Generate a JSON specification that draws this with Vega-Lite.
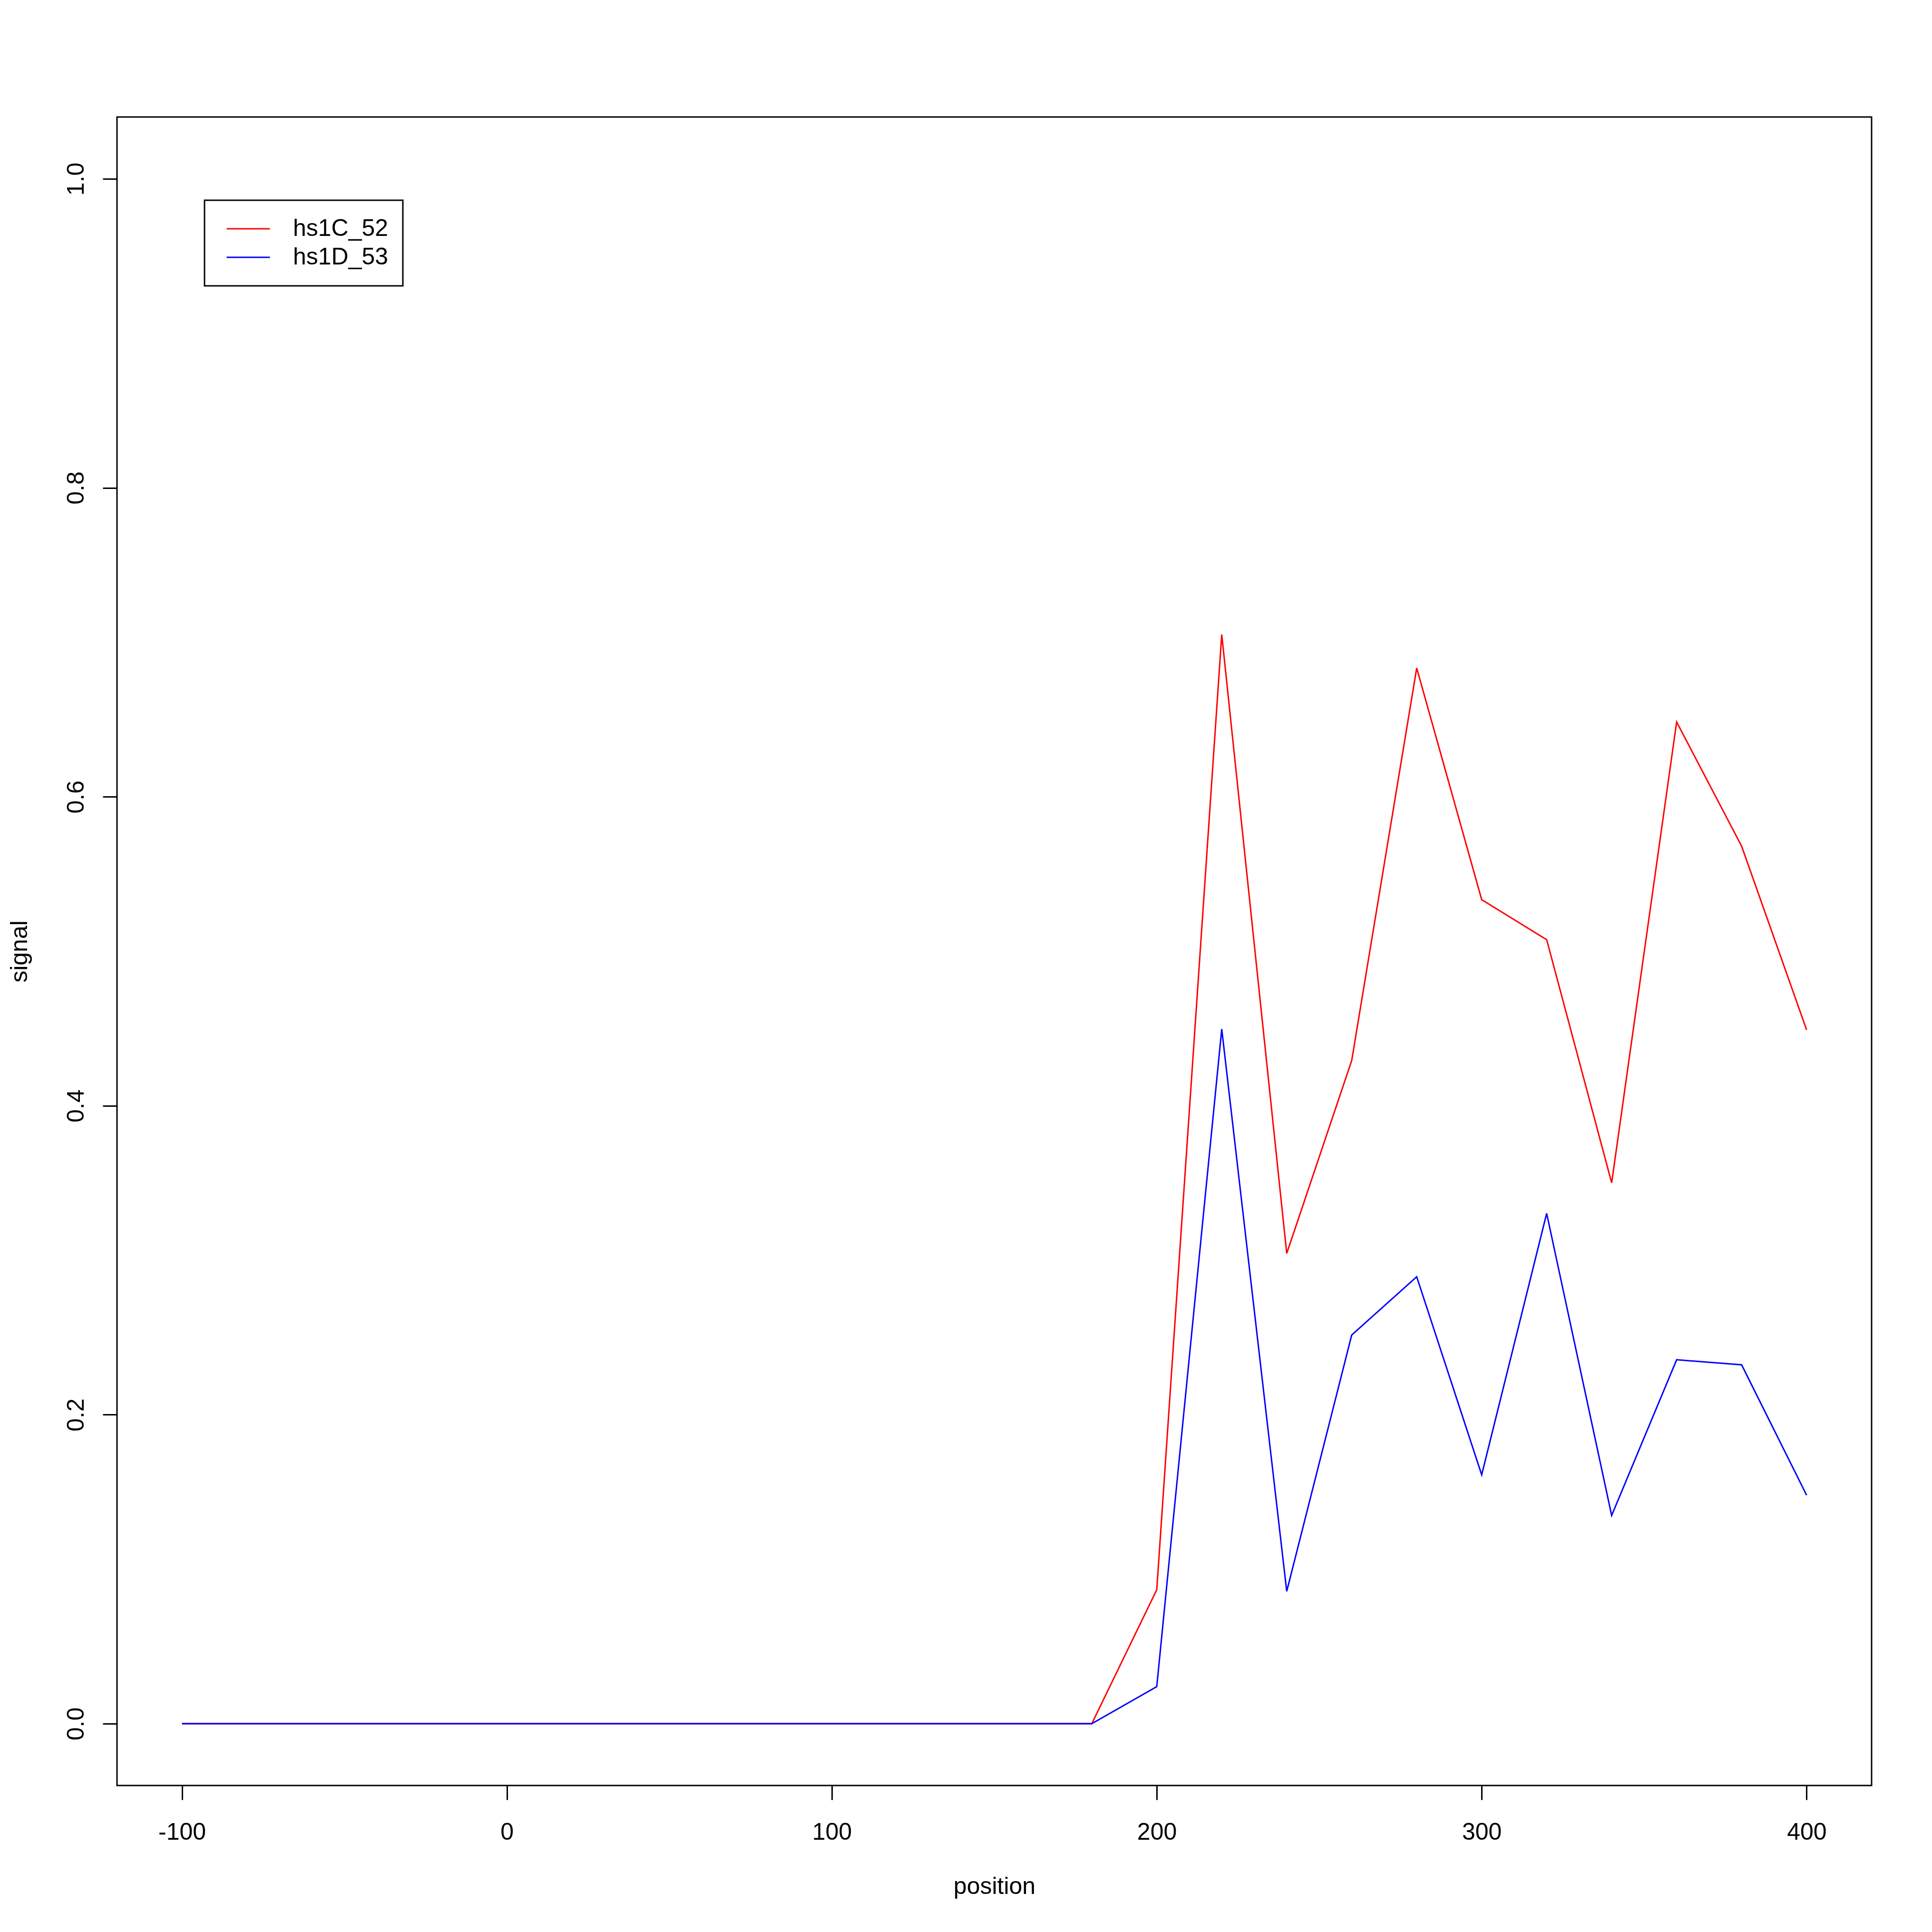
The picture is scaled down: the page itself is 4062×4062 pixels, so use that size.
{
  "$schema": "https://vega.github.io/schema/vega-lite/v6.json",
  "width": 3689,
  "height": 3508,
  "autosize": {"type": "none"},
  "padding": {"left": 246, "top": 246, "right": 127, "bottom": 308},
  "background": "white",
  "data": {
    "values": [
      {"position": -100, "signal": 0, "series": "hs1C_52"},
      {"position": -80, "signal": 0, "series": "hs1C_52"},
      {"position": -60, "signal": 0, "series": "hs1C_52"},
      {"position": -40, "signal": 0, "series": "hs1C_52"},
      {"position": -20, "signal": 0, "series": "hs1C_52"},
      {"position": 0, "signal": 0, "series": "hs1C_52"},
      {"position": 20, "signal": 0, "series": "hs1C_52"},
      {"position": 40, "signal": 0, "series": "hs1C_52"},
      {"position": 60, "signal": 0, "series": "hs1C_52"},
      {"position": 80, "signal": 0, "series": "hs1C_52"},
      {"position": 100, "signal": 0, "series": "hs1C_52"},
      {"position": 120, "signal": 0, "series": "hs1C_52"},
      {"position": 140, "signal": 0, "series": "hs1C_52"},
      {"position": 160, "signal": 0, "series": "hs1C_52"},
      {"position": 180, "signal": 0, "series": "hs1C_52"},
      {"position": 200, "signal": 0.0867, "series": "hs1C_52"},
      {"position": 220, "signal": 0.705, "series": "hs1C_52"},
      {"position": 240, "signal": 0.3044, "series": "hs1C_52"},
      {"position": 260, "signal": 0.4293, "series": "hs1C_52"},
      {"position": 280, "signal": 0.6833, "series": "hs1C_52"},
      {"position": 300, "signal": 0.5334, "series": "hs1C_52"},
      {"position": 320, "signal": 0.5075, "series": "hs1C_52"},
      {"position": 340, "signal": 0.3501, "series": "hs1C_52"},
      {"position": 360, "signal": 0.6484, "series": "hs1C_52"},
      {"position": 380, "signal": 0.568, "series": "hs1C_52"},
      {"position": 400, "signal": 0.4491, "series": "hs1C_52"},
      {"position": -100, "signal": 0, "series": "hs1D_53"},
      {"position": -80, "signal": 0, "series": "hs1D_53"},
      {"position": -60, "signal": 0, "series": "hs1D_53"},
      {"position": -40, "signal": 0, "series": "hs1D_53"},
      {"position": -20, "signal": 0, "series": "hs1D_53"},
      {"position": 0, "signal": 0, "series": "hs1D_53"},
      {"position": 20, "signal": 0, "series": "hs1D_53"},
      {"position": 40, "signal": 0, "series": "hs1D_53"},
      {"position": 60, "signal": 0, "series": "hs1D_53"},
      {"position": 80, "signal": 0, "series": "hs1D_53"},
      {"position": 100, "signal": 0, "series": "hs1D_53"},
      {"position": 120, "signal": 0, "series": "hs1D_53"},
      {"position": 140, "signal": 0, "series": "hs1D_53"},
      {"position": 160, "signal": 0, "series": "hs1D_53"},
      {"position": 180, "signal": 0, "series": "hs1D_53"},
      {"position": 200, "signal": 0.024, "series": "hs1D_53"},
      {"position": 220, "signal": 0.4496, "series": "hs1D_53"},
      {"position": 240, "signal": 0.0857, "series": "hs1D_53"},
      {"position": 260, "signal": 0.2516, "series": "hs1D_53"},
      {"position": 280, "signal": 0.2893, "series": "hs1D_53"},
      {"position": 300, "signal": 0.1611, "series": "hs1D_53"},
      {"position": 320, "signal": 0.3303, "series": "hs1D_53"},
      {"position": 340, "signal": 0.1348, "series": "hs1D_53"},
      {"position": 360, "signal": 0.2356, "series": "hs1D_53"},
      {"position": 380, "signal": 0.2323, "series": "hs1D_53"},
      {"position": 400, "signal": 0.1479, "series": "hs1D_53"}
    ]
  },
  "mark": {"type": "line", "strokeWidth": 3},
  "encoding": {
    "x": {
      "field": "position",
      "type": "quantitative",
      "scale": {"domain": [-120, 420], "nice": false, "zero": false},
      "axis": {
        "title": "position",
        "values": [-100, 0, 100, 200, 300, 400],
        "labelExpr": "'' + datum.value",
        "labelBaseline": "alphabetic",
        "labelPadding": 83,
        "titleY": 212,
        "titleBaseline": "middle"
      }
    },
    "y": {
      "field": "signal",
      "type": "quantitative",
      "scale": {"domain": [-0.04, 1.04], "nice": false, "zero": false},
      "axis": {
        "title": "signal",
        "values": [0, 0.2, 0.4, 0.6, 0.8, 1.0],
        "format": ".1f",
        "labelAngle": -90,
        "labelAlign": "center",
        "labelBaseline": "alphabetic",
        "labelPadding": 41,
        "titleX": -205,
        "titleY": 1754,
        "titleAngle": -90,
        "titleAlign": "center",
        "titleBaseline": "middle"
      }
    },
    "color": {
      "field": "series",
      "type": "nominal",
      "scale": {"domain": ["hs1C_52", "hs1D_53"], "range": ["#FF0000", "#0000FF"]},
      "legend": {
        "title": null,
        "orient": "none",
        "legendX": 184,
        "legendY": 175,
        "encode": {
          "legend": {
            "update": {
              "stroke": {"value": "black"},
              "strokeWidth": {"value": 3},
              "fill": {"value": "white"}
            }
          }
        }
      }
    }
  },
  "config": {
    "view": {"stroke": "black", "strokeWidth": 3},
    "legend": {
      "padding": 30,
      "labelFont": "Liberation Sans",
      "labelFontSize": 50,
      "labelColor": "black",
      "labelLimit": 0,
      "labelOffset": 47,
      "labelBaseline": "middle",
      "symbolType": "M-0.717,0H1",
      "symbolSize": 11236,
      "symbolStrokeWidth": 3,
      "clipHeight": 60,
      "rowPadding": 0
    },
    "axis": {
      "grid": false,
      "domain": false,
      "ticks": true,
      "tickSize": 30,
      "tickWidth": 3,
      "tickColor": "black",
      "labelColor": "black",
      "labelFont": "Liberation Sans",
      "labelFontSize": 50,
      "labelOverlap": false,
      "labelFlush": false,
      "titleFont": "Liberation Sans",
      "titleFontSize": 50,
      "titleFontWeight": "normal",
      "titleColor": "black"
    }
  }
}
